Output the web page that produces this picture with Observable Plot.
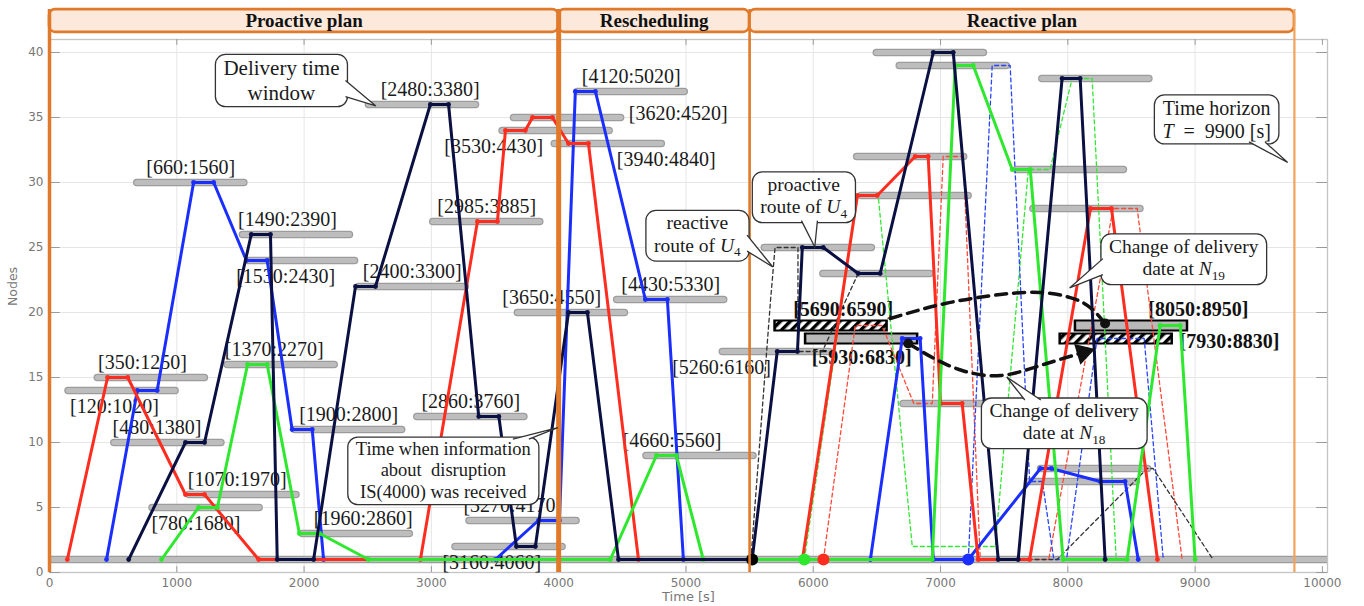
<!DOCTYPE html>
<html>
<head>
<meta charset="utf-8">
<script src="https://cdn.jsdelivr.net/npm/d3@7"></script>
<script src="https://cdn.jsdelivr.net/npm/@observablehq/plot@0.6"></script>
<style>
  html, body { margin: 0; padding: 0; background: #fff; }
  svg { display: block; }
</style>
</head>
<body>
<div id="chart"></div>
<script>
// ---------------- DATA ----------------
const xTicks = [0, 1000, 2000, 3000, 4000, 5000, 6000, 7000, 8000, 9000, 10000];
const yTicks = [0, 5, 10, 15, 20, 25, 30, 35, 40];

const phases = [
  {name: "Proactive plan", start: 0, end: 4000},
  {name: "Rescheduling", start: 4000, end: 5500},
  {name: "Reactive plan", start: 5500, end: 9780}
];

// delivery time windows: [start, end, node]
const timeWindows = [
  [120, 1020, 14], [350, 1250, 15], [480, 1380, 10], [660, 1560, 30], [780, 1680, 5],
  [1070, 1970, 6], [1370, 2270, 16], [1490, 2390, 26], [1530, 2430, 24], [1900, 2800, 11],
  [1960, 2860, 3], [2400, 3300, 22], [2480, 3380, 36], [2860, 3760, 12], [2985, 3885, 27],
  [3160, 4060, 2], [3270, 4170, 4], [3530, 4430, 34], [3620, 4520, 35], [3940, 4840, 33],
  [4120, 5020, 37], [3650, 4550, 20], [4430, 5330, 21], [4660, 5560, 9], [5260, 6160, 17],
  [6470, 7370, 40], [6650, 7550, 39], [7770, 8670, 38], [6315, 7215, 32], [7570, 8470, 31],
  [6350, 7250, 29], [7700, 8600, 28], [5590, 6490, 25], [6050, 6950, 23], [6680, 7580, 13],
  [7760, 8660, 8], [7670, 8570, 7]
];
const depotWindow = [0, 10040, 1];

// windows whose delivery date changed: [start, end, node]
const changedWindows = [[5690, 6590, 19], [5930, 6830, 18], [8050, 8950, 19], [7930, 8830, 18]];
const changedKinds = ["hatched", "gray", "gray", "hatched"];

// routes: [time, node]
const redRoute = [[140,1],[456,15],[615,15],[1068,6],[1218,6],[1643,1],[2914,1],[3362,27],[3519,27],[3582,34],[3738,34],[3794,35],[3951,35],[4077,33],[4234,33],[4627,1],[5915,1],[6347,29],[6503,29],[6801,32],[6903,32],[7000,13],[7170,13],[7296,1],[7700,1],[8178,28],[8343,28],[8704,1]];
const blueRoute = [[448,1],[690,14],[846,14],[1132,30],[1290,30],[1547,24],[1710,24],[1906,11],[2064,11],[2153,1],[3503,1],[3841,4],[4006,4],[4131,37],[4289,37],[4681,21],[4854,21],[4980,1],[6449,1],[6699,18],[6840,18],[6943,1],[7218,1],[7785,8],[7870,8],[8254,7],[8450,7],[8553,1]];
const navyRoute = [[622,1],[1068,10],[1218,10],[1585,26],[1736,26],[1789,1],[2075,1],[2404,22],[2561,22],[2992,36],[3135,36],[3372,12],[3530,12],[3668,2],[3817,2],[4077,20],[4226,20],[4470,1],[5520,1],[5717,17],[5876,17],[5914,25],[6079,25],[6353,23],[6526,23],[6943,40],[7100,40],[7453,1],[7610,1],[7955,38],[8097,38],[8293,1]];
const greenRoute = [[880,1],[1171,5],[1319,5],[1556,16],[1710,16],[1963,3],[2122,3],[2506,1],[4406,1],[4768,9],[4925,9],[5136,1],[6935,1],[7115,39],[7257,39],[7563,31],[7705,31],[7963,1],[8466,1],[8725,19],[8884,19],[9000,1]];

const redAltRoute = [[6080,1],[6330,19],[6540,19],[6790,13],[6935,13],[7021,32],[7178,32],[7312,1],[7850,1],[8356,28],[8545,28],[8898,1]];
const blueAltRoute = [[7218,1],[7406,39],[7547,39],[7700,7],[7800,7],[7890,1],[7990,1],[8230,18],[8600,18],[8750,1]];
const greenAltRoute = [[5930,1],[6350,29],[6510,29],[6778,2],[7430,2],[7690,31],[7860,31],[8034,38],[8191,38],[8380,1]];
const blackAltRoute = [[5510,1],[5665,21],[5700,25],[5880,25],[5880,17],[6071,17],[6353,23],[6526,23],[6943,40],[7100,40],[7453,1],[7916,1],[8623,8],[8670,8],[9141,1]];

// changes of delivery date (time, node)
const changeN19 = [[6605,19.54],[7037,20.69],[7469,21.38],[7783,21.54],[8019,21.15],[8176,20.38],[8293,19.15]];
const changeN18 = [[6746,17.62],[6935,16.54],[7170,15.54],[7469,15.15],[7783,15.92],[8121,16.92]];

// start of reactive routes
const reactiveStarts = [["navy", 5520, 1], ["green", 5930, 1], ["red", 6080, 1], ["blue", 7218, 1]];

// callouts: text, anchor (time,node), pointer tip (time,node)
const callouts = [
  {text: "Delivery time\nwindow", x: 1822, y: 37.9, tx: 2568, ty: 35.85, size: 21},
  {text: "Time when information\nabout  disruption\nIS(4000) was received", x: 3094, y: 7.92, tx: 3997, ty: 11.1, size: 18.5},
  {text: "reactive\nroute of U₄", x: 5089, y: 26.08, tx: 5686, ty: 23.46, size: 19.5},
  {text: "proactive\nroute of U₄", x: 5925, y: 29.04, tx: 6016, ty: 25, size: 19.5},
  {text: "Change of delivery\ndate at N₁₉", x: 8910, y: 24.27, tx: 8018, ty: 21.85, size: 19.5},
  {text: "Change of delivery\ndate at N₁₈", x: 7971, y: 11.65, tx: 7524, ty: 15, size: 19.5},
  {text: "Time horizon\nT  =  9900 [s]", x: 9169, y: 34.88, tx: 9731, ty: 31.5, size: 20}
];

// ---------------- LAYOUT / STYLE ----------------
const labelPlacement = ["below","above","above","above","below","above","above","above","below","above",
  "above","above","above","above","above","below","above","below","right","below",
  "above","above","above","above","below"];
const labelShift = [-60,-70,-85,0,-80,-45,-55,-70,-125,0, 55,0,60,0,0,-135,-80,-490,0,455, 0,-155,0,-220,-430];
const changedPlacement = ["above","below","above","right"];
const changedShift = [95, 0, 525, 0];

const W = 1364, H = 606, mL = 49, mR = 37, mT = 39, mB = 34;
const xMax = 10040, yMax = 41;
const headerY1 = 41.55, headerY2 = 43.3;
const serif = "Liberation Serif, Times New Roman, serif";
const sans = "DejaVu Sans, Verdana, sans-serif";
const orange = "#e07a2a";
const colorOf = {red: "#ff2d1f", blue: "#1a2eff", navy: "#0b1042", green: "#2ee82e", black: "#000"};

const windowObjs = timeWindows.map((w, i) => ({start: w[0], end: w[1], node: w[2], place: labelPlacement[i] || "none", shift: labelShift[i] || 0}));
const changedObjs = changedWindows.map((w, i) => ({start: w[0], end: w[1], node: w[2], kind: changedKinds[i], place: changedPlacement[i], shift: changedShift[i]}));
const fmt = d => `[${d.start}:${d.end}]`;
const mid = d => (d.start + d.end) / 2 + d.shift;

const solid = (route, color) => [
  Plot.line(route, {x: d => d[0], y: d => d[1], stroke: color, strokeWidth: 3, strokeLinejoin: "round"}),
  Plot.dot(route, {x: d => d[0], y: d => d[1], r: 2.4, fill: color})
];
const dashed = (route, color) =>
  Plot.line(route, {x: d => d[0], y: d => d[1], stroke: color, strokeWidth: 1.3, strokeDasharray: "4,3"});

// arrow head direction for N18 change
const kx = (W - mL - mR) / xMax, ky = (H - mT - mB) / yMax;
const a = changeN18[changeN18.length - 2], b = changeN18[changeN18.length - 1];
const headRot = Math.atan2((b[0] - a[0]) * kx, (b[1] - a[1]) * ky) * 180 / Math.PI;

const plot = Plot.plot({
  width: W, height: H,
  marginLeft: mL, marginRight: mR, marginTop: mT, marginBottom: mB,
  x: {domain: [0, xMax]},
  y: {domain: [0, yMax]},
  color: {type: "identity"},
  style: {background: "#fff", fontFamily: sans},
  marks: [
    Plot.gridX(xTicks.slice(1, -1), {stroke: "#e6e6e6", strokeOpacity: 1}),
    Plot.gridY(yTicks.slice(1), {stroke: "#e6e6e6", strokeOpacity: 1}),
    Plot.frame({stroke: "#c4c4c4", strokeWidth: 1.3}),
    Plot.ruleX(xTicks, {y1: 0, y2: 0.45, stroke: "#9a9a9a"}),
    Plot.ruleX(xTicks, {y1: yMax, y2: yMax - 0.45, stroke: "#9a9a9a"}),
    Plot.ruleY(yTicks, {x1: 0, x2: 85, stroke: "#9a9a9a"}),
    Plot.ruleY(yTicks, {x1: xMax, x2: xMax - 85, stroke: "#9a9a9a"}),

    // depot + time windows
    Plot.ruleY([depotWindow], {y: d => d[2], x1: d => d[0], x2: d => d[1], stroke: "#9c9c9c", strokeWidth: 7.5}),
    Plot.ruleY([depotWindow], {y: d => d[2], x1: d => d[0], x2: d => d[1], stroke: "#bdbdbd", strokeWidth: 5}),
    Plot.ruleY(windowObjs, {y: "node", x1: "start", x2: "end", stroke: "#9c9c9c", strokeWidth: 7.5, strokeLinecap: "round", insetLeft: 3.75, insetRight: 3.75}),
    Plot.ruleY(windowObjs, {y: "node", x1: "start", x2: "end", stroke: "#bdbdbd", strokeWidth: 5, strokeLinecap: "round", insetLeft: 3.75, insetRight: 3.75}),

    // window labels
    Plot.text(windowObjs.filter(d => d.place === "above"), {x: mid, y: "node", text: fmt, dy: -15, fontFamily: serif, fontSize: 20, fill: "#1a1a1a"}),
    Plot.text(windowObjs.filter(d => d.place === "below"), {x: mid, y: "node", text: fmt, dy: 16, fontFamily: serif, fontSize: 20, fill: "#1a1a1a"}),
    Plot.text(windowObjs.filter(d => d.place === "right"), {x: "end", y: "node", text: fmt, dx: 4, dy: -4, textAnchor: "start", fontFamily: serif, fontSize: 20, fill: "#1a1a1a"}),

    // changed windows
    Plot.ruleY(changedObjs, {y: "node", x1: "start", x2: "end", stroke: "#000", strokeWidth: 12}),
    Plot.ruleY(changedObjs.filter(d => d.kind === "gray"), {y: "node", x1: "start", x2: "end", stroke: "#b9b9b9", strokeWidth: 8, insetLeft: 2.5, insetRight: 2.5}),
    Plot.ruleY(changedObjs.filter(d => d.kind === "hatched"), {y: "node", x1: "start", x2: "end", stroke: "url(#hatch)", strokeWidth: 8, insetLeft: 2.5, insetRight: 2.5}),
    Plot.text(changedObjs.filter(d => d.place === "above"), {x: mid, y: "node", text: fmt, dy: -16, fontFamily: serif, fontWeight: "bold", fontSize: 20, fill: "#111"}),
    Plot.text(changedObjs.filter(d => d.place === "below"), {x: mid, y: "node", text: fmt, dy: 19, fontFamily: serif, fontWeight: "bold", fontSize: 20, fill: "#111"}),
    Plot.text(changedObjs.filter(d => d.place === "right"), {x: "end", y: "node", text: fmt, dx: 6, dy: 3, textAnchor: "start", fontFamily: serif, fontWeight: "bold", fontSize: 20, fill: "#111"}),

    // reactive (dashed) routes
    dashed(greenAltRoute, "#33e833"),
    dashed(redAltRoute, "#ff4a3a"),
    dashed(blueAltRoute, "#2a45ff"),
    dashed(blackAltRoute, "#333"),

    // solid routes (drawing order matches overlaps on the depot line)
    ...solid(blueRoute, colorOf.blue),
    ...solid(redRoute, colorOf.red),
    ...solid(greenRoute, colorOf.green),
    ...solid(navyRoute, colorOf.navy),

    // change of delivery date curves
    Plot.line(changeN19, {x: d => d[0], y: d => d[1], curve: "natural", stroke: "#111", strokeWidth: 3.5, strokeDasharray: "11,7"}),
    Plot.line(changeN18, {x: d => d[0], y: d => d[1], curve: "natural", stroke: "#111", strokeWidth: 3.5, strokeDasharray: "11,7"}),
    Plot.dot([changeN19[changeN19.length - 1], changeN18[0]], {x: d => d[0], y: d => d[1], r: 5, fill: "#111"}),
    Plot.dot([changeN18[changeN18.length - 1]], {x: d => d[0], y: d => d[1], r: 8, symbol: "triangle", rotate: headRot, fill: "#111"}),

    // reactive start dots
    Plot.dot(reactiveStarts, {x: d => d[1], y: d => d[2], r: 6, fill: d => colorOf[d[0] === "navy" ? "black" : d[0]]}),

    // phase headers and boundaries
    Plot.rect(phases, {x1: "start", x2: "end", y1: headerY1, y2: headerY2, fill: "#fde9dc", stroke: orange, strokeWidth: 2.6, rx: 6}),
    Plot.text(phases, {x: d => (d.start + d.end) / 2, y: (headerY1 + headerY2) / 2, text: "name", fontFamily: serif, fontWeight: "bold", fontSize: 19, fill: "#111"}),
    Plot.ruleX([phases[0].start], {y1: 0, y2: headerY2, stroke: orange, strokeWidth: 3.5}),
    Plot.ruleX([phases[1].start], {y1: 0, y2: headerY2, stroke: orange, strokeWidth: 5}),
    Plot.ruleX([phases[2].start], {y1: 0, y2: headerY2, stroke: orange, strokeWidth: 2.6}),
    Plot.ruleX([phases[2].end], {y1: 0, y2: headerY2, stroke: "#f2a35a", strokeWidth: 2.2}),

    // callouts
    Plot.text(callouts, {x: "x", y: "y", text: "text", fontSize: d => d.size, lineHeight: 1.15, fontFamily: serif, fill: "#1a1a1a"}),

    // axes
    Plot.axisX(xTicks, {tickSize: 0, tickPadding: 6, fontSize: 12, fontFamily: sans, color: "#777", label: null, tickFormat: d => String(d)}),
    Plot.axisY(yTicks, {tickSize: 0, tickPadding: 6, fontSize: 12, fontFamily: sans, color: "#777", label: null, tickFormat: d => String(d)}),
    Plot.text(["Time [s]"], {frameAnchor: "bottom", dy: 28, text: d => d, fontSize: 13, fontFamily: sans, fill: "#777"}),
    Plot.text(["Nodes"], {frameAnchor: "left", dx: -37, rotate: -90, text: d => d, fontSize: 12.5, fontFamily: sans, fill: "#777"})
  ]
});

document.getElementById("chart").appendChild(plot);

// ---- hatch pattern ----
const svg = d3.select(plot);
const defs = svg.insert("defs", ":first-child");
const pat = defs.append("pattern").attr("id", "hatch").attr("patternUnits", "userSpaceOnUse")
  .attr("width", 7).attr("height", 7).attr("patternTransform", "rotate(45)");
pat.append("rect").attr("width", 7).attr("height", 7).attr("fill", "#fff");
pat.append("rect").attr("width", 3.4).attr("height", 7).attr("fill", "#000");

// ---- locate callout texts ----
let calloutG = null;
plot.querySelectorAll("g").forEach(g => {
  const t = g.querySelector(":scope > text");
  if (!calloutG && t && t.textContent.startsWith("Delivery time")) calloutG = g;
});
const calloutTexts = calloutG ? Array.from(calloutG.querySelectorAll(":scope > text")) : [];

// ---- callout styling: italic symbols and subscripts ----
const subDigits = {"₀":"0","₁":"1","₂":"2","₃":"3","₄":"4","₅":"5","₆":"6","₇":"7","₈":"8","₉":"9"};
calloutTexts.forEach(t => {
  const lines = t.querySelectorAll("tspan");
  const targets = lines.length ? Array.from(lines) : [t];
  targets.forEach(ts => {
    const s = ts.textContent;
    if (/[UN][₀-₉]+/.test(s) || /^T\s+=/.test(s)) {
      const html = s
        .replace(/([UN])([₀-₉]+)/g, (m, L, dd) => `<tspan font-style="italic">${L}</tspan><tspan font-size="0.68em" dy="0.32em">${[...dd].map(c => subDigits[c]).join("")}</tspan>`)
        .replace(/^T(?=\s+=)/, '<tspan font-style="italic">T</tspan>');
      ts.innerHTML = html;
    }
  });
});

// ---- callout bubbles ----
if (calloutG) {
  const xs = plot.scale("x"), ys = plot.scale("y");
  const svgRect = plot.getBoundingClientRect();
  const bubbleG = document.createElementNS("http://www.w3.org/2000/svg", "g");
  calloutG.parentNode.insertBefore(bubbleG, calloutG);
  const clamp = (v, lo, hi) => Math.max(lo, Math.min(hi, v));
  const rr = (x0, y0, x1, y1, r) =>
    `M${x0 + r},${y0}H${x1 - r}A${r},${r} 0 0 1 ${x1},${y0 + r}V${y1 - r}A${r},${r} 0 0 1 ${x1 - r},${y1}H${x0 + r}A${r},${r} 0 0 1 ${x0},${y1 - r}V${y0 + r}A${r},${r} 0 0 1 ${x0 + r},${y0}Z`;
  calloutTexts.forEach((t, i) => {
    const c = callouts[i];
    const bb = t.getBoundingClientRect();
    const padX = 8, padY = 2, r = 10, w = 8;
    const x0 = bb.left - svgRect.left - padX, x1 = bb.right - svgRect.left + padX;
    const y0 = bb.top - svgRect.top - padY, y1 = bb.bottom - svgRect.top + padY;
    const tip = [xs.apply(c.tx), ys.apply(c.ty)];
    const cx = (x0 + x1) / 2, cy = (y0 + y1) / 2;
    const dx = tip[0] - cx, dy = tip[1] - cy;
    const hw = (x1 - x0) / 2, hh = (y1 - y0) / 2;
    const tx = dx !== 0 ? hw / Math.abs(dx) : Infinity;
    const ty = dy !== 0 ? hh / Math.abs(dy) : Infinity;
    const m = r + w;
    let b1, b2;
    if (tx < ty) {
      const ex = dx > 0 ? x1 - 2 : x0 + 2;
      const ey = clamp(cy + dy * tx, y0 + m, y1 - m);
      b1 = [ex, ey - w]; b2 = [ex, ey + w];
    } else {
      const ey = dy > 0 ? y1 - 2 : y0 + 2;
      const ex = clamp(cx + dx * ty, x0 + m, x1 - m);
      b1 = [ex - w, ey]; b2 = [ex + w, ey];
    }
    const box = document.createElementNS("http://www.w3.org/2000/svg", "path");
    box.setAttribute("d", rr(x0, y0, x1, y1, r));
    box.setAttribute("fill", "#fff"); box.setAttribute("stroke", "#333"); box.setAttribute("stroke-width", 1.3);
    bubbleG.appendChild(box);
    const tail = document.createElementNS("http://www.w3.org/2000/svg", "path");
    tail.setAttribute("d", `M${b1[0]},${b1[1]}L${tip[0]},${tip[1]}L${b2[0]},${b2[1]}`);
    tail.setAttribute("fill", "#fff"); tail.setAttribute("stroke", "#333"); tail.setAttribute("stroke-width", 1.3);
    bubbleG.appendChild(tail);
  });
}
</script>
</body>
</html>
